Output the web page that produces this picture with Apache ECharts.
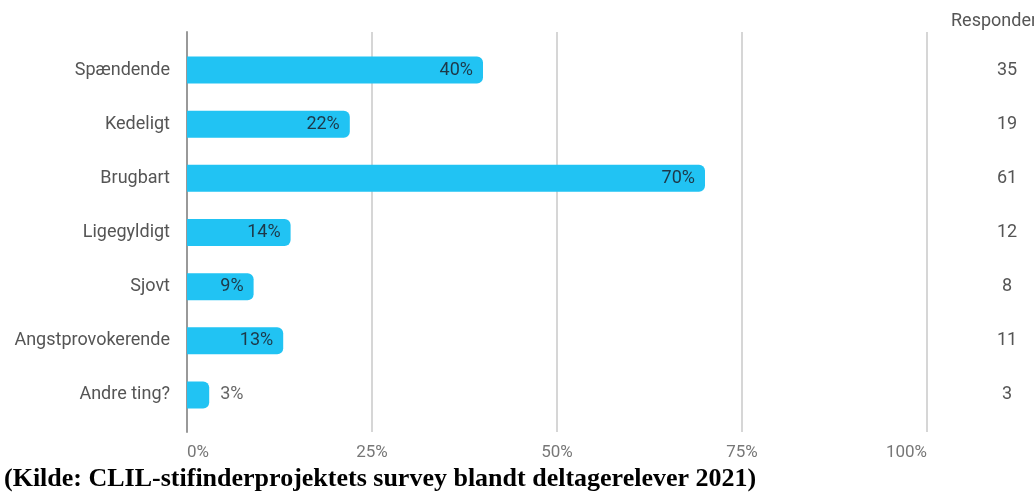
<!DOCTYPE html>
<html>
<head>
<meta charset="utf-8">
<script src="https://cdn.jsdelivr.net/npm/echarts@6/dist/echarts.min.js"></script>
<style>
  html, body { margin: 0; padding: 0; background: #fff; }
  #chart { width: 1034px; height: 493px; }
</style>
</head>
<body>
<div id="chart"></div>
<script>
// Survey answers (share of respondents, %) and respondent counts
const categories = ['Spændende', 'Kedeligt', 'Brugbart', 'Ligegyldigt', 'Sjovt', 'Angstprovokerende', 'Andre ting?'];
const percentages = [40, 22, 70, 14, 9, 13, 3];
const respondents = [35, 19, 61, 12, 8, 11, 3];
const xTicks = [0, 25, 50, 75, 100];

const chart = echarts.init(document.getElementById('chart'), null, { renderer: 'canvas' });

const barColor = '#21c3f3';
const labelFont = 'Roboto, "Noto Sans", sans-serif';

const barData = percentages.map(function (v) {
  const item = { value: v };
  if (v < 6) {
    item.label = { position: 'right', distance: 11, color: '#666' };
  }
  return item;
});

chart.setOption({
  animation: false,
  backgroundColor: '#fff',
  grid: [
    { left: 187, right: 107, top: 32, bottom: 61 },
    { left: 187, right: 107, top: 43, bottom: 71 }
  ],
  xAxis: [
    {
      gridIndex: 0, type: 'value', min: xTicks[0], max: xTicks[xTicks.length - 1], interval: 25,
      axisLine: { show: false }, axisTick: { show: false },
      splitLine: { show: true, lineStyle: { color: '#c8c8c8', width: 1.5 } },
      axisLabel: {
        formatter: '{value}%', color: '#777', fontFamily: labelFont, fontSize: 17, margin: 12,
        alignMinLabel: 'left', alignMaxLabel: 'right'
      }
    },
    {
      gridIndex: 1, type: 'value', min: 0, max: 100, show: false
    }
  ],
  yAxis: [
    {
      gridIndex: 0, type: 'value', min: 0, max: 1,
      axisLine: { show: true, lineStyle: { color: '#999', width: 2 } },
      axisTick: { show: false }, axisLabel: { show: false }, splitLine: { show: false }
    },
    {
      gridIndex: 1, type: 'category', data: categories, inverse: true,
      axisLine: { show: false }, axisTick: { show: false },
      axisLabel: { color: '#555', fontFamily: labelFont, fontSize: 18, margin: 17 }
    },
    {
      gridIndex: 1, type: 'category', data: respondents, inverse: true, position: 'right',
      axisLine: { show: false }, axisTick: { show: false },
      axisLabel: { color: '#555', fontFamily: labelFont, fontSize: 18, margin: 80, align: 'center' }
    }
  ],
  graphic: [
    {
      type: 'text', left: 951, top: 12,
      style: { text: 'Respondenter', fill: '#555', font: '18px ' + labelFont }
    },
    {
      type: 'text', left: 4, top: 466,
      style: { text: '(Kilde: CLIL-stifinderprojektets survey blandt deltagerelever 2021)', fill: '#000', font: 'bold 26px "Liberation Serif", "DejaVu Serif", serif' }
    }
  ],
  series: [
    {
      type: 'bar', xAxisIndex: 1, yAxisIndex: 1,
      data: barData, barWidth: 27,
      itemStyle: { color: barColor, borderRadius: [0, 6, 6, 0] },
      label: {
        show: true, position: 'insideRight', distance: 10, formatter: '{c}%',
        color: '#1e3848', fontFamily: labelFont, fontSize: 18
      }
    }
  ]
});
</script>
</body>
</html>
